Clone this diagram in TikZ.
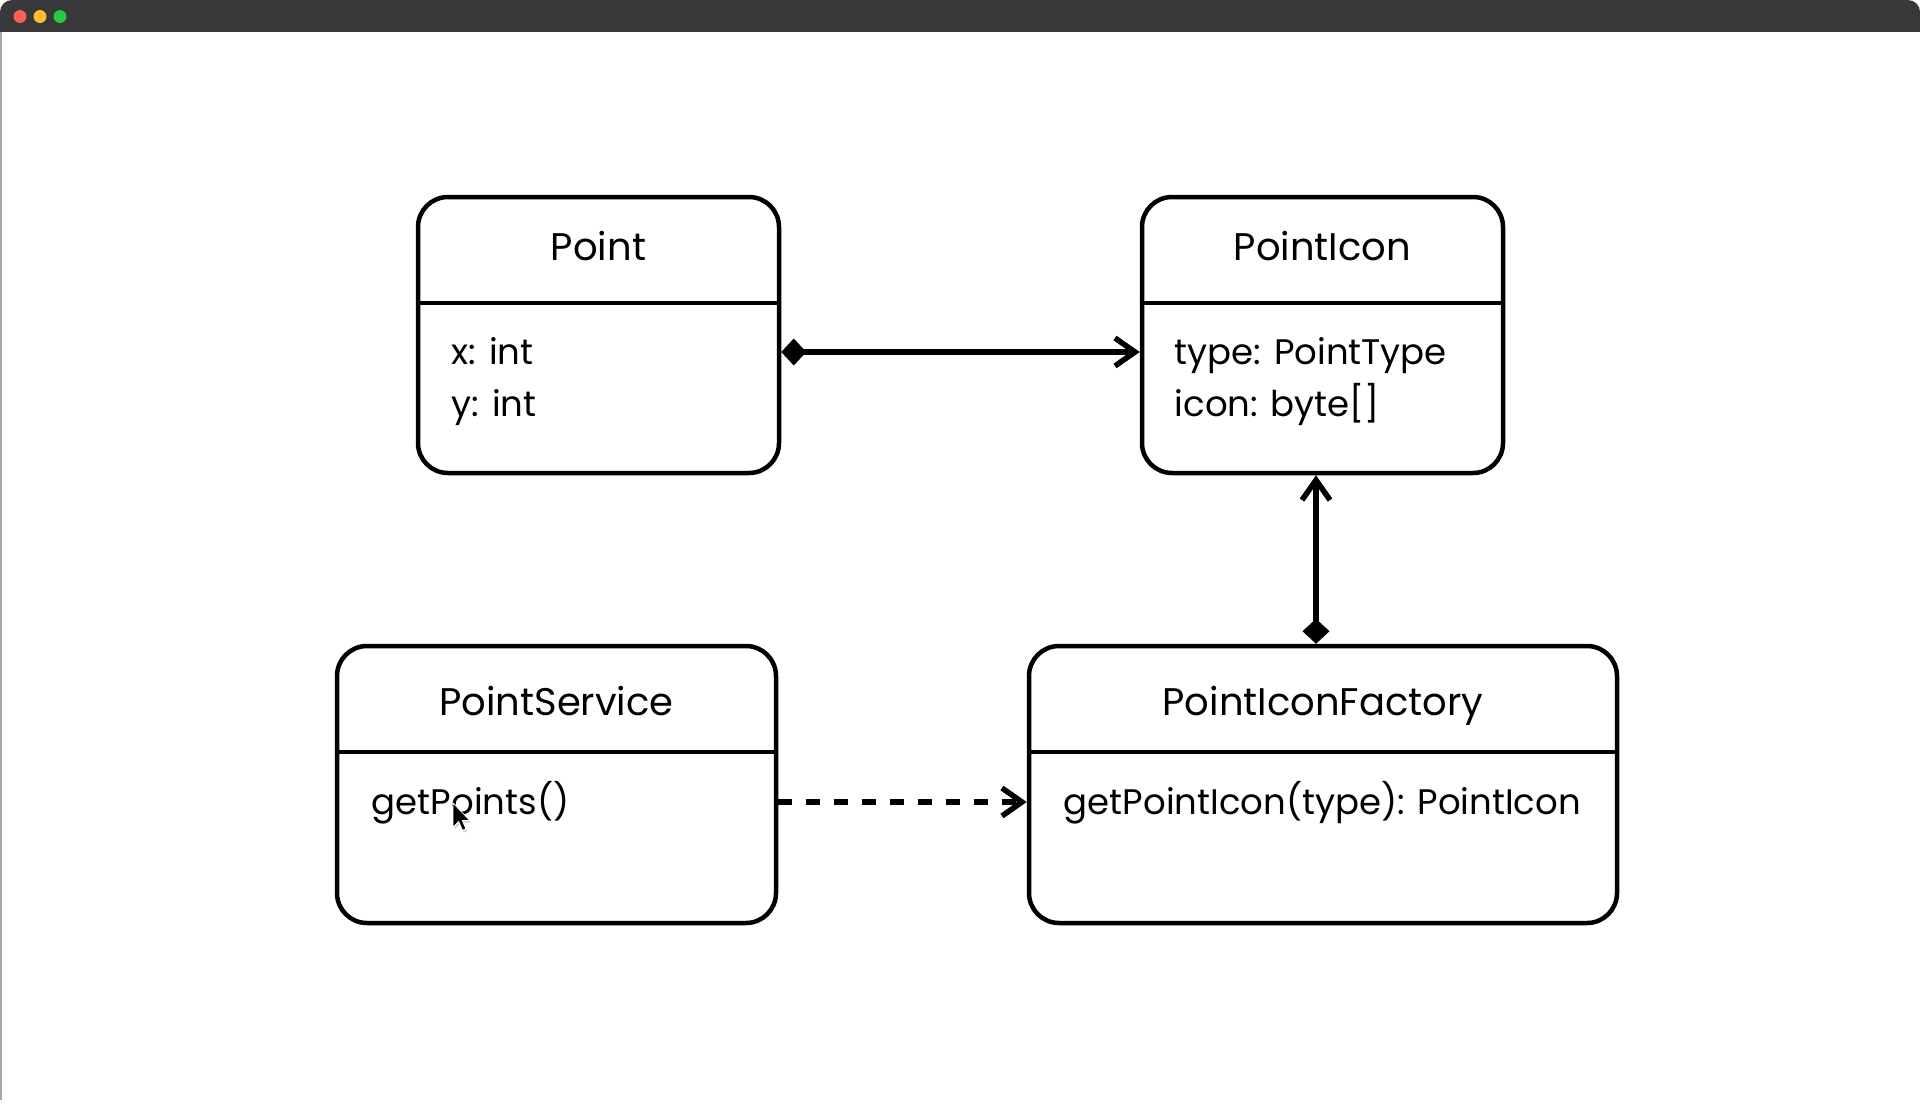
\documentclass[tikz,border=0pt]{standalone}
\usepackage{fontspec}
\setmainfont{Poppins}
\usetikzlibrary{arrows.meta}

\definecolor{barcol}{HTML}{37383A}
\definecolor{closered}{HTML}{FE5F57}
\definecolor{minyellow}{HTML}{FEBC2E}
\definecolor{zoomgreen}{HTML}{28C840}
\definecolor{edgegray}{HTML}{A3A7B0}

\begin{document}
\begin{tikzpicture}[x=1pt,y=-1pt,
  classbox/.style={draw=black, line width=4.5pt, rounded corners=30pt,
    inner sep=0pt, fill=white, minimum height=276pt},
  divider/.style={draw=black, line width=4.5pt},
  titletext/.style={anchor=base, inner sep=0pt, font=\fontsize{38.5}{44}\selectfont},
  membertext/.style={anchor=base west, inner sep=0pt, font=\fontsize{35.5}{42}\selectfont},
  composition/.style={line width=5.5pt,
    {Diamond[length=25pt,width=27pt,line width=0pt]}-{Straight Barb[length=20pt,width=28pt]}},
  dependency/.style={line width=5.5pt, dash pattern=on 14pt off 14pt,
    -{Straight Barb[length=20pt,width=28pt]}}
]
% canvas
\useasboundingbox (0,0) rectangle (1920,1106);
\fill[white] (0,0) rectangle (1920,1106);

% window title bar with its three buttons
\fill[barcol, rounded corners=12pt] (0,0) rectangle (1920,50);
\fill[white] (0,32) rectangle (1920,60);
\fill[closered] (20,16.5) circle (6.5pt);
\fill[minyellow] (40,16.5) circle (6.5pt);
\fill[zoomgreen] (60,16.5) circle (6.5pt);
\draw[edgegray, line width=2.5pt] (1.2,32) -- (1.2,1100);

% class boxes
\node[classbox, minimum width=361pt] (point) at (598.5,335) {};
\node[classbox, minimum width=361pt] (pointicon) at (1322.5,335) {};
\node[classbox, minimum width=439pt, minimum height=277pt] (service) at (556.5,784.5) {};
\node[classbox, minimum width=588pt, minimum height=277pt] (factory) at (1323,784.5) {};

% compartment dividers
\foreach \b in {point,pointicon,service,factory}
  \draw[divider] ([yshift=-108pt]\b.north west) -- ([yshift=-108pt]\b.north east);

% class names
\node[titletext] (pointName) at ([yshift=-66pt]point.north) {Point};
\node[titletext] (pointiconName) at ([yshift=-66pt]pointicon.north) {PointIcon};
\node[titletext] (serviceName) at ([yshift=-72pt]service.north) {PointService};
\node[titletext] (factoryName) at ([yshift=-72pt]factory.north) {PointIconFactory};

% members
\node[membertext] (pointX) at ([xshift=36pt,yshift=-170pt]point.north west) {x: int};
\node[membertext] (pointY) at ([xshift=36pt,yshift=-222pt]point.north west) {y: int};
\node[membertext] (iconType) at ([xshift=35pt,yshift=-170pt]pointicon.north west) {type: PointType};
\node[membertext] (iconData) at ([xshift=35pt,yshift=-222pt]pointicon.north west) {icon: byte[]};
\node[membertext] (serviceOp) at ([xshift=37pt,yshift=-171pt]service.north west) {getPoints()};
\node[membertext] (factoryOp) at ([xshift=37pt,yshift=-171pt]factory.north west) {getPointIcon(type): PointIcon};

% relations
\draw[composition] ([yshift=-17pt]point.east) -- ([yshift=-17pt]pointicon.west);
\draw[composition] ([xshift=-7pt]factory.north) -- ([xshift=-7pt]factory.north |- pointicon.south);
\draw[dependency] ([yshift=-17.5pt]service.east) -- ([yshift=-17.5pt]factory.west);

% mouse pointer
\begin{scope}[shift={(453,803)}, scale=1.5]
  \fill[black, opacity=0.18] (1,1.5) -- (1,17.5) -- (4.8,13.9) -- (7.3,19.7) -- (9.6,18.7) -- (7.2,13.1) -- (12.2,13.1) -- cycle;
  \filldraw[fill=black, draw=white, line width=0.8pt, line join=round]
    (0,0) -- (0,16) -- (3.8,12.4) -- (6.3,18.2) -- (8.6,17.2) -- (6.2,11.6) -- (11.2,11.6) -- cycle;
\end{scope}
\end{tikzpicture}
\end{document}
